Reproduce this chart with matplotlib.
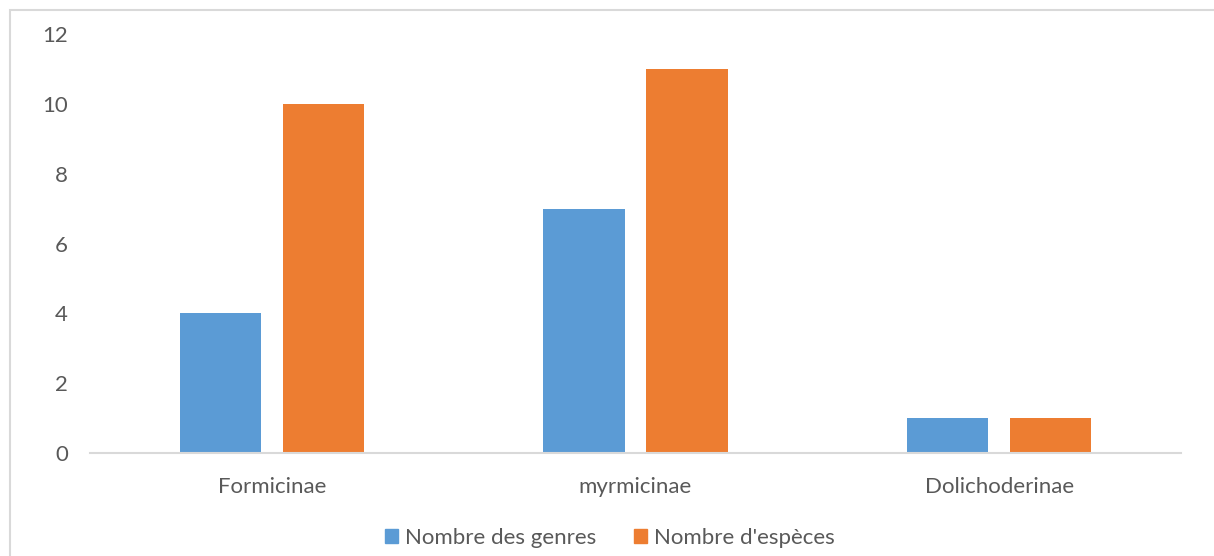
import matplotlib
matplotlib.use("Agg")
import matplotlib.pyplot as plt
from matplotlib.patches import Rectangle, Patch
import numpy as np

categories = ["Formicinae", "myrmicinae", "Dolichoderinae"]
genres = [4, 7, 1]
especes = [10, 11, 1]
series_names = ["Nombre des genres", "Nombre d'espèces"]
colors = ["#5B9BD5", "#ED7D31"]

W, H = 1214, 556
fig = plt.figure(figsize=(W / 100, H / 100), dpi=100)
plt.rcParams["font.family"] = ["Lato", "DejaVu Sans"]
text_color = "#595959"
grid_gray = "#D9D9D9"

# chart frame
fig.patches.append(Rectangle((10 / W, -0.1), 1.2, 1.1 - 10 / H,
                             transform=fig.transFigure, fill=False,
                             edgecolor=grid_gray, linewidth=1.5))

ax = fig.add_axes([90 / W, 1 - 453 / H, (1181 - 90) / W, (453 - 34) / H])
x = np.arange(len(categories))
bw = 0.223
off = 0.1416
ax.bar(x - off, genres, bw, color=colors[0], label=series_names[0])
ax.bar(x + off, especes, bw, color=colors[1], label=series_names[1])

ax.set_xlim(-0.5, len(categories) - 0.5)
ax.set_ylim(0, 12)
ax.set_yticks(range(0, 13, 2))
ax.set_xticks(x)
ax.set_xticklabels(categories)
for s in ["top", "right", "left"]:
    ax.spines[s].set_visible(False)
ax.spines["bottom"].set_color(grid_gray)
ax.spines["bottom"].set_linewidth(1.5)
ax.tick_params(axis="both", length=0, labelsize=16, colors=text_color)
ax.tick_params(axis="y", pad=16)
ax.tick_params(axis="x", pad=17)

handles = [Patch(color=c) for c in colors]
fig.legend(handles, series_names, loc="center", bbox_to_anchor=(0.502, 1 - 538 / H),
           ncol=2, frameon=False, fontsize=16, handlelength=0.6, handleheight=0.6,
           handletextpad=0.3, columnspacing=1.7, labelcolor=text_color)

fig.savefig("out.png", dpi=100)
